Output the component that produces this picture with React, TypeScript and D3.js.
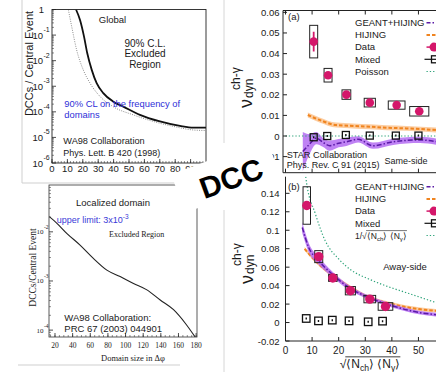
import { useEffect, useRef } from 'react';
import * as d3 from 'd3';

const SANS = '"Liberation Sans", Arial, Helvetica, sans-serif';
const SERIF = '"Liberation Serif", "Times New Roman", serif';

// WA98 global DCC search (top left)
const globalSize = [15.6, 18.2, 20.8, 22.9, 25.8, 29.0, 33.3, 39.8, 46.3, 57.1, 70.1, 83.1, 91.8, 100];
const globalLimit = [1, 0.389, 0.0871, 0.0195, 0.00437, 0.00132, 0.00054, 0.00025, 0.00016, 0.000076, 0.000042, 0.000028, 0.000024, 0.000024];
const freqSize = [10.6, 12.8, 16.0, 20.3, 24.7, 31.2, 39.8, 52.8, 65.8, 78.8, 91.8, 100];
const freqLimit = [1, 0.214, 0.0263, 0.00437, 0.00132, 0.000398, 0.000158, 0.000076, 0.000042, 0.000027, 0.0000195, 0.0000186];
const globalXTicks = [0, 10, 20, 30, 40, 50, 60, 70, 80, 90];
const globalYExps = [0, -1, -2, -3, -4, -5, -6];

// WA98 localized domain (bottom left)
const localSize = [13.5, 21.9, 33.3, 48.4, 63.5, 78.8, 93.9, 109, 124.2, 139.3, 154.4, 167.7, 179];
const localLimit = [0.0204, 0.0151, 0.00933, 0.00537, 0.00288, 0.00166, 0.00123, 0.00089, 0.00066, 0.00041, 0.00026, 0.000138, 0.000072];
const localXTicks = [20, 40, 60, 80, 100, 120, 140, 160, 180];
const localYExps = [-2, -3, -4];

// STAR ch-gamma, same-side (a)
const sameX = [10.6, 16.0, 22.9, 31.7, 41.8, 50.3];
const sameData = [0.0458, 0.0295, 0.0201, 0.0162, 0.015, 0.012];
const sameStat = [0.0048, 0.0012, 0.001, 0.001, 0.001, 0.001];
const sameSys = [0.0079, 0.0033, 0.0023, 0.0021, 0.002, 0.0023];
const sameSysW = [1.5, 1.5, 1.65, 2.1, 3.15, 3.6];
const sameMixedX = [10.6, 15.7, 22.7, 31.7, 41.5, 50.0];
const sameMixed = [-0.0006, 0.0, 0.0005, 0.0002, 0.0002, 0.0002];
const sameGeantX = [6.5, 9, 11.6, 14, 16.6, 20, 22.9, 27.3, 32.9, 40.5, 50.6, 57];
const sameGeant = [-0.0075, -0.004, -0.001, -0.003, -0.0047, -0.0035, -0.0028, -0.0016, -0.0047, -0.0028, -0.0019, -0.0028];
const sameGeantErr = [0.0095, 0.005, 0.003, 0.0022, 0.0025, 0.002, 0.002, 0.0015, 0.0015, 0.0015, 0.0015, 0.0015];
const sameHijingX = [8.4, 12.8, 19.1, 25.4, 31.7, 38, 45.5, 57];
const sameHijing = [0.0102, 0.0078, 0.0053, 0.0049, 0.0045, 0.004, 0.0037, 0.0029];
const sameHijingErr = [0.0012, 0.0012, 0.0012, 0.0012, 0.0012, 0.0012, 0.0012, 0.0012];
const poissonX = [0, 57];
const poisson = [0, 0];
const sameYTicks = [-0.01, 0, 0.01, 0.02, 0.03, 0.04, 0.05, 0.06];
const sameLegend = ['GEANT+HIJING', 'HIJING', 'Data', 'Mixed', 'Poisson'];

// away-side (b)
const awayX = [8.0, 12.5, 17.8, 24.4, 31.7, 37.6];
const awayData = [0.1268, 0.0714, 0.0483, 0.0345, 0.0254, 0.0174];
const awayStat = [0.004, 0.002, 0.002, 0.002, 0.002, 0.002];
const awaySys = [0.0203, 0.0065, 0.0037, 0.0045, 0.004, 0.0041];
const awaySysW = [1.4, 1.5, 1.6, 1.9, 2.2, 2.75];
const awayMixedX = [7.8, 12.4, 17.6, 23.9, 31.1, 36.5];
const awayMixed = [0.0044, 0.0018, 0.0026, 0.0018, 0.0008, 0.0015];
const awayGeantX = [6.3, 8.7, 12.5, 17.5, 23.8, 31.3, 40.1, 50.2, 57];
const awayGeant = [0.103, 0.0815, 0.067, 0.0526, 0.038, 0.0272, 0.0182, 0.0109, 0.0084];
const awayGeantErr = [0.006, 0.005, 0.004, 0.003, 0.0025, 0.002, 0.002, 0.002, 0.002];
const awayHijingX = [7.2, 11.2, 16.2, 22.5, 30, 40, 50.2, 57];
const awayHijing = [0.0798, 0.067, 0.0543, 0.0417, 0.029, 0.02, 0.0146, 0.0127];
const awayHijingErr = [0.002, 0.002, 0.002, 0.002, 0.002, 0.002, 0.002, 0.002];
const invSqrtX = [7.6, 8, 11.2, 14.9, 20, 25, 31.3, 37.6, 45.2, 57];
const invSqrt = [0.158, 0.15, 0.118, 0.0888, 0.0689, 0.0562, 0.0472, 0.0399, 0.0326, 0.0212];
const awayYTicks = [-0.02, 0, 0.02, 0.04, 0.06, 0.08, 0.1, 0.12, 0.14];
const awayLegend = ['GEANT+HIJING', 'HIJING', 'Data', 'Mixed'];
const rightXTicks = [0, 10, 20, 30, 40, 50];

const PURPLE = '#5a1aa6';
const PURPLE_BAND = '#b46cf2';
const ORANGE = '#f0841f';
const ORANGE_BAND = '#fbc08a';
const MAGENTA = '#d4176a';
const GREEN = '#2ea37a';

export default function App() {
  const svgRef = useRef<SVGSVGElement>(null);

  useEffect(() => {
    const svg = d3.select(svgRef.current);
    svg.selectAll('*').remove();
    const defs = svg.append('defs');

    const clip = (id: string, x: number, y: number, w: number, h: number) => {
      defs.append('clipPath').attr('id', id)
        .append('rect').attr('x', x).attr('y', y).attr('width', w).attr('height', h);
      return `url(#${id})`;
    };
    const seg = (g: any, x1: number, y1: number, x2: number, y2: number, stroke = '#222', w = 0.8) =>
      g.append('line').attr('x1', x1).attr('y1', y1).attr('x2', x2).attr('y2', y2)
        .attr('stroke', stroke).attr('stroke-width', w);
    const label = (g: any, x: number, y: number, s: string, size: number, o: any = {}) =>
      g.append('text').attr('x', x).attr('y', y)
        .attr('font-family', o.family || SANS).attr('font-size', size)
        .attr('fill', o.fill || '#1a1a1a').attr('text-anchor', o.anchor || 'start')
        .text(s);

    // ---------------- top left: global ----------------
    const xA = d3.scaleLinear().domain([0, 100]).range([52, 206]);
    const yA = d3.scaleLog().domain([1e-6, 1]).range([163, 9.5]);
    const gA = svg.append('g');
    gA.append('path').attr('d', 'M22,0V183H182').attr('fill', 'none').attr('stroke', '#cfcfcf');

    d3.range(0, 100, 2).forEach(v => seg(gA, xA(v), 163, xA(v), 161, '#444', 0.6));
    globalXTicks.forEach(v => {
      seg(gA, xA(v), 163, xA(v), 159);
      label(gA, xA(v), 171.5, String(v), 9.5, { anchor: 'middle' });
    });
    d3.range(-6, 0).forEach(e => d3.range(2, 10).forEach(m => {
      const y = yA(m * Math.pow(10, e));
      seg(gA, 52, y, 54, y, '#444', 0.6);
    }));
    globalYExps.forEach(e => {
      const y = yA(Math.pow(10, e));
      seg(gA, 52, y, 56, y);
      if (e === 0) {
        label(gA, 44, y + 3.5, '1', 9.5, { anchor: 'end' });
      } else {
        label(gA, 43, y + 3.5, '10', 9.5, { anchor: 'end' });
        label(gA, 43.5, y - 3, String(e), 7);
      }
    });
    gA.append('text')
      .attr('transform', 'translate(33,63.5) rotate(-90)')
      .attr('text-anchor', 'middle').attr('font-family', SANS).attr('font-size', 11)
      .attr('fill', '#1a1a1a').text('DCCs / Central Event');

    const lineA = (xs: number[]) => d3.line<number>()
      .x((_, i) => xA(xs[i])).y(d => yA(d)).curve(d3.curveMonotoneX);
    const clipA = clip('clipA', 52, 9.5, 154, 153.5);
    gA.append('path').attr('d', lineA(freqSize)(freqLimit)).attr('clip-path', clipA)
      .attr('fill', 'none').attr('stroke', '#808080').attr('stroke-width', 0.9)
      .attr('stroke-dasharray', '1 1.3');
    gA.append('path').attr('d', lineA(globalSize)(globalLimit)).attr('clip-path', clipA)
      .attr('fill', 'none').attr('stroke', '#111').attr('stroke-width', 1.8);
    gA.append('rect').attr('x', 52).attr('y', 9.5).attr('width', 154).attr('height', 153.5)
      .attr('fill', 'none').attr('stroke', '#222').attr('stroke-width', 0.9);

    label(gA, 112.5, 22.5, 'Global', 9.5, { anchor: 'middle' });
    label(gA, 145, 46.5, '90% C.L.', 10, { anchor: 'middle' });
    label(gA, 145, 57, 'Excluded', 10, { anchor: 'middle' });
    label(gA, 145, 67.5, 'Region', 10, { anchor: 'middle' });
    label(gA, 64.3, 106.5, '90% CL on the frequency of', 9.4, { fill: '#2f2fd8' });
    label(gA, 64.3, 117.5, 'domains', 9.4, { fill: '#2f2fd8' });
    label(gA, 63.3, 143.5, 'WA98 Collaboration', 9.2);
    label(gA, 63.3, 155.5, 'Phys. Lett. B 420 (1998)', 9);

    // ---------------- bottom left: localized ----------------
    const xB = d3.scaleLinear().domain([13.2, 181]).range([49, 197]);
    const yB = d3.scaleLog().domain([Math.pow(10, -4.14), Math.pow(10, -1.047)]).range([337, 185]);
    const gB = svg.append('g');
    gB.append('path').attr('d', 'M18,365H180').attr('stroke', '#cfcfcf').attr('fill', 'none');
    d3.range(15, 181, 5).forEach(v => seg(gB, xB(v), 337, xB(v), 335, '#444', 0.6));
    localXTicks.forEach(v => {
      seg(gB, xB(v), 337, xB(v), 333);
      label(gB, xB(v), 348, String(v), 7.5, { anchor: 'middle', family: SERIF });
    });
    d3.range(-5, -1).forEach(e => d3.range(2, 10).forEach(m => {
      const v = m * Math.pow(10, e);
      if (v < yB.domain()[0] || v > yB.domain()[1]) return;
      seg(gB, 49, yB(v), 51, yB(v), '#444', 0.6);
    }));
    localYExps.forEach(e => {
      const y = yB(Math.pow(10, e));
      seg(gB, 49, y, 53, y);
      label(gB, 43.5, y + 2.5, '10', 7, { anchor: 'end', family: SERIF });
      label(gB, 44, y - 2.5, String(e), 5.5, { family: SERIF });
    });
    gB.append('text')
      .attr('transform', 'translate(36,267.5) rotate(-90)')
      .attr('text-anchor', 'middle').attr('font-family', SERIF).attr('font-size', 9.5)
      .attr('fill', '#1a1a1a').text('DCCs/Central Event');
    const clipB = clip('clipB', 49, 185, 148, 152);
    gB.append('path')
      .attr('d', d3.line<number>().x((_, i) => xB(localSize[i])).y(d => yB(d)).curve(d3.curveMonotoneX)(localLimit))
      .attr('clip-path', clipB).attr('fill', 'none').attr('stroke', '#222').attr('stroke-width', 1.1);
    gB.append('rect').attr('x', 49).attr('y', 185).attr('width', 148).attr('height', 152)
      .attr('fill', 'none').attr('stroke', '#333').attr('stroke-width', 0.8);
    label(gB, 113, 205.5, 'Localized domain', 9.5, { anchor: 'middle' });
    const ul = label(gB, 56.7, 222.5, 'upper limit: 3x10', 9, { fill: '#3a3ad8' });
    ul.append('tspan').attr('dy', -4).attr('font-size', 6.5).text('-3');
    label(gB, 109, 237, 'Excluded Region', 8, { family: SERIF });
    label(gB, 64.3, 320.5, 'WA98 Collaboration:', 9.5);
    label(gB, 64.3, 331.5, 'PRC 67 (2003) 044901', 9.5);
    label(gB, 133, 361, 'Domain size in \u0394\u03c6', 8.5, { anchor: 'middle', family: SERIF });

    // ---------------- right panels ----------------
    const xR = d3.scaleLinear().domain([0, 56.6]).range([285.5, 436]);
    svg.append('path').attr('d', 'M224,0V143M224,210V372').attr('stroke', '#d6d6d6').attr('fill', 'none');

    const drawPanel = (o: any) => {
      const g = svg.append('g');
      const y = o.y;
      const cp = clip(o.id, o.left, o.top, 446 - o.left, o.bottom - o.top);
      const inner = g.append('g').attr('clip-path', cp);
      const band = (xs: number[], ys: number[], es: number[]) => d3.area<number>()
        .x((_, i) => xR(xs[i])).y0((d, i) => y(d - es[i])).y1((d, i) => y(d + es[i]))
        .curve(d3.curveMonotoneX)(ys);
      const line = (xs: number[], ys: number[]) => d3.line<number>()
        .x((_, i) => xR(xs[i])).y(d => y(d)).curve(d3.curveMonotoneX)(ys);

      inner.append('path').attr('d', band(o.hijingX, o.hijing, o.hijingErr)).attr('fill', ORANGE_BAND).attr('opacity', 0.8);
      inner.append('path').attr('d', line(o.hijingX, o.hijing)).attr('fill', 'none')
        .attr('stroke', ORANGE).attr('stroke-width', 2).attr('stroke-dasharray', '3.5 2');
      inner.append('path').attr('d', band(o.geantX, o.geant, o.geantErr)).attr('fill', PURPLE_BAND).attr('opacity', 0.85);
      inner.append('path').attr('d', line(o.geantX, o.geant)).attr('fill', 'none')
        .attr('stroke', PURPLE).attr('stroke-width', 1.5).attr('stroke-dasharray', '5 2 1.5 2');
      inner.append('path').attr('d', line(o.refX, o.ref)).attr('fill', 'none')
        .attr('stroke', GREEN).attr('stroke-width', 1.2).attr('stroke-dasharray', '1.3 2');

      o.mixedX.forEach((v: number, i: number) => {
        const cx = xR(v), cy = y(o.mixed[i]);
        inner.append('rect').attr('x', cx - o.sq / 2).attr('y', cy - o.sq / 2)
          .attr('width', o.sq).attr('height', o.sq).attr('fill', 'none')
          .attr('stroke', '#111').attr('stroke-width', 1.3);
        seg(inner, cx, cy - 1, cx, cy + 1, '#111', 1.4);
      });
      o.dataX.forEach((v: number, i: number) => {
        const d = o.data[i];
        inner.append('rect').attr('x', xR(v - o.sysW[i])).attr('y', y(d + o.sys[i]))
          .attr('width', xR(v + o.sysW[i]) - xR(v - o.sysW[i]))
          .attr('height', y(d - o.sys[i]) - y(d + o.sys[i]))
          .attr('fill', 'none').attr('stroke', '#222').attr('stroke-width', 1);
      });
      o.dataX.forEach((v: number, i: number) => {
        const d = o.data[i];
        seg(inner, xR(v), y(d + o.stat[i]), xR(v), y(d - o.stat[i]), MAGENTA, 1.8);
        inner.append('circle').attr('cx', xR(v)).attr('cy', y(d)).attr('r', o.r).attr('fill', MAGENTA);
      });

      // frame and ticks
      g.append('path').attr('d', o.frame).attr('fill', 'none').attr('stroke', '#222').attr('stroke-width', 1);
      rightXTicks.forEach(v => {
        seg(g, xR(v), o.bottom, xR(v), o.bottom - 4, '#222', 1);
        if (o.topTicks) seg(g, xR(v), o.top, xR(v), o.top + 4, '#222', 1);
        if (o.xLabels) label(g, xR(v), o.bottom + 12.5, String(v), 10, { anchor: 'middle' });
      });
      o.yTicks.forEach((v: number) => {
        seg(g, o.left, y(v), o.left + 4, y(v), '#222', 1);
        label(g, 279.5, y(v) + 3.5, String(v), 9.5, { anchor: 'end' });
      });
      label(g, 288, o.tagY, o.tag, 9.5);

      // y title
      const t = g.append('g').attr('transform', `translate(${o.nu[0]},${o.nu[1]}) rotate(-90)`)
        .attr('font-family', SANS).attr('fill', '#1a1a1a');
      t.append('text').attr('font-size', 18).text('\u03bd');
      t.append('text').attr('x', 10).attr('y', 1).attr('font-size', 12).text('dyn');
      t.append('text').attr('x', 18).attr('y', -12).attr('font-size', 12).text('ch-\u03b3');
      return g;
    };

    const yC = d3.scaleLinear().domain([-0.0178, 0.0609]).range([172.7, 10.5]);
    const gC = drawPanel({
      id: 'clipC', y: yC, left: 283, top: 10.5, bottom: 172.7,
      frame: 'M440,10.5H283V172.7H440', topTicks: true, xLabels: false,
      yTicks: sameYTicks, tag: '(a)', tagY: 19.5, nu: [252, 108],
      geantX: sameGeantX, geant: sameGeant, geantErr: sameGeantErr,
      hijingX: sameHijingX, hijing: sameHijing, hijingErr: sameHijingErr,
      refX: poissonX, ref: poisson,
      mixedX: sameMixedX, mixed: sameMixed, sq: 7,
      dataX: sameX, data: sameData, stat: sameStat, sys: sameSys, sysW: sameSysW, r: 4.3,
    });
    const yD = d3.scaleLinear().domain([-0.02, 0.158]).range([341, 176.7]);
    const gD = drawPanel({
      id: 'clipD', y: yD, left: 285.5, top: 176.7, bottom: 341,
      frame: 'M285.5,176.7V341H440', topTicks: false, xLabels: true,
      yTicks: awayYTicks, tag: '(b)', tagY: 189.5, nu: [253, 284],
      geantX: awayGeantX, geant: awayGeant, geantErr: awayGeantErr,
      hijingX: awayHijingX, hijing: awayHijing, hijingErr: awayHijingErr,
      refX: invSqrtX, ref: invSqrt,
      mixedX: awayMixedX, mixed: awayMixed, sq: 7.5,
      dataX: awayX, data: awayData, stat: awayStat, sys: awaySys, sysW: awaySysW, r: 4.7,
    });

    // legends
    const legend = (g: any, labels: string[], y0: number) => {
      labels.forEach((s, i) => {
        const y = y0 + i * 12.2;
        label(g, 355, y + 3.3, s, 9.5);
        const x0 = 426.5;
        if (s === 'GEANT+HIJING') seg(g, x0, y, 440, y, PURPLE, 1.5).attr('stroke-dasharray', '4 2 1.5 2');
        if (s === 'HIJING') seg(g, x0, y, 440, y, ORANGE, 2).attr('stroke-dasharray', '3.5 2');
        if (s === 'Data') {
          seg(g, x0, y, 436, y, MAGENTA, 1.5);
          g.append('circle').attr('cx', 434).attr('cy', y).attr('r', 4.5).attr('fill', MAGENTA);
        }
        if (s === 'Mixed') {
          seg(g, x0 - 2, y, 436, y, '#111', 1.2);
          g.append('rect').attr('x', 431.5).attr('y', y - 3.5).attr('width', 7).attr('height', 7)
            .attr('fill', 'none').attr('stroke', '#111').attr('stroke-width', 1.3);
        }
        if (s === 'Poisson') seg(g, x0, y, 440, y, GREEN, 1.2).attr('stroke-dasharray', '1.3 2');
      });
    };
    legend(gC, sameLegend, 22.7);
    legend(gD, awayLegend, 186.7);
    seg(gD, 426.5, 235.5, 440, 235.5, GREEN, 1.2).attr('stroke-dasharray', '1.3 2');

    const sqrtLabel = (g: any, x: number, y: number, size: number, prefix: string, anchor: string) => {
      const t = g.append('text').attr('x', x).attr('y', y).attr('font-family', SANS)
        .attr('font-size', size).attr('text-anchor', anchor).attr('fill', '#1a1a1a');
      const head = t.append('tspan').text(prefix + '\u221a');
      const sub = size * 0.72;
      t.append('tspan').text('\u27e8N');
      t.append('tspan').attr('font-size', sub).attr('dy', size * 0.25).text('ch');
      t.append('tspan').attr('dy', -size * 0.25).text('\u27e9 \u27e8N');
      t.append('tspan').attr('font-size', sub).attr('dy', size * 0.25).text('\u03b3');
      t.append('tspan').attr('dy', -size * 0.25).text('\u27e9');
      const bb = (t.node() as SVGTextElement).getBBox();
      const hw = (head.node() as SVGTextContentElement).getComputedTextLength();
      seg(g, bb.x + hw - size * 0.08, y - size * 0.93, bb.x + bb.width, y - size * 0.93, '#1a1a1a', size * 0.07);
    };
    sqrtLabel(gD, 355, 238.5, 8.5, '1/', 'start');
    sqrtLabel(gD, 370, 368, 12, '', 'middle');

    label(gC, 286.7, 158.3, 'STAR Collaboration', 9.2);
    label(gC, 286.7, 167.6, 'Phys. Rev. C 91 (2015)', 9);
    label(gC, 384.5, 163.5, 'Same-side', 9);
    label(gD, 405, 270, 'Away-side', 9.5, { anchor: 'middle' });

    // DCC stamp
    const stamp = svg.append('g').attr('transform', 'translate(231,178) rotate(-20)');
    stamp.append('rect').attr('x', -55).attr('y', -24).attr('width', 102).attr('height', 41).attr('fill', '#fff');
    stamp.append('text').attr('text-anchor', 'middle').attr('dy', '0.36em')
      .attr('font-family', SANS).attr('font-weight', 'bold').attr('font-size', 30)
      .attr('fill', '#000').text('DCC');
  }, []);

  return (
    <svg
      ref={svgRef}
      width={436}
      height={372}
      style={{ position: 'absolute', left: 0, top: 0, background: '#fff' }}
    />
  );
}
